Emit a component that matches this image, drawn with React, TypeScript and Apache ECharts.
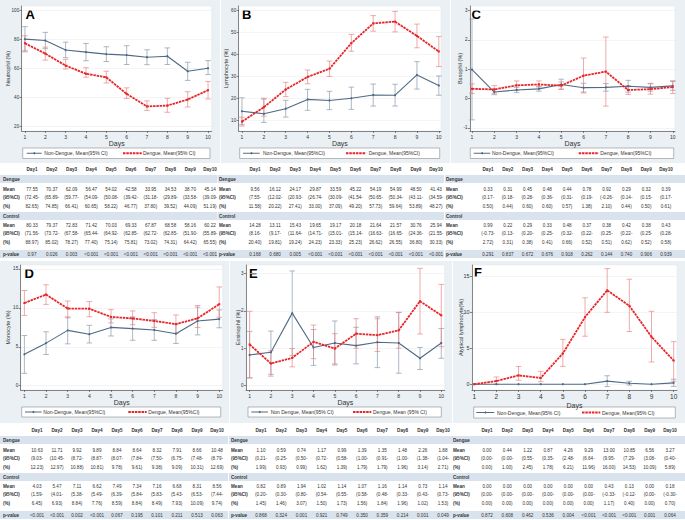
import React, { useEffect, useRef } from "react";
import * as echarts from "echarts";

const FONT = "Liberation Sans, Arial, sans-serif";
const days = [1, 2, 3, 4, 5, 6, 7, 8, 9, 10];
const dayLabels = days.map((d) => `Day${d}`);

// A Neutrophil
const neuDenMean = [77.55, 70.37, 62.09, 56.47, 54.02, 42.58, 33.95, 34.53, 38.7, 45.14];
const neuDenLo = [72.45, 65.89, 59.77, 54.09, 50.08, 39.42, 31.18, 29.89, 33.58, 39.09];
const neuDenHi = [82.65, 74.85, 66.41, 60.65, 58.22, 46.77, 37.8, 39.52, 44.09, 51.19];
const neuConMean = [80.33, 79.37, 72.83, 71.42, 70.03, 69.33, 67.87, 68.58, 58.16, 60.22];
const neuConLo = [71.56, 73.72, 67.58, 65.44, 64.92, 62.85, 62.72, 62.85, 51.9, 55.89];
const neuConHi = [88.97, 85.02, 78.27, 77.4, 75.14, 75.81, 73.02, 74.31, 64.42, 65.55];
const neuP = ["0.97", "0.026", "0.003", "<0.001", "<0.001", "<0.001", "<0.001", "<0.001", "<0.001", "<0.001"];

// B Lymphocyte
const lymDenMean = [9.56, 16.12, 24.17, 29.87, 33.59, 45.22, 54.19, 54.99, 48.5, 41.43];
const lymDenLo = [7.55, 12.02, 20.93, 26.74, 30.09, 41.54, 50.65, 50.34, 43.11, 34.59];
const lymDenHi = [11.58, 20.22, 27.41, 33.0, 37.09, 49.2, 57.73, 59.64, 53.89, 48.27];
const lymConMean = [14.28, 13.11, 15.43, 19.65, 19.17, 20.18, 21.64, 21.57, 30.76, 25.94];
const lymConLo = [8.16, 9.17, 11.64, 14.71, 15.01, 15.14, 16.63, 16.65, 24.36, 21.55];
const lymConHi = [20.4, 19.81, 19.24, 24.23, 23.33, 25.23, 26.62, 26.55, 36.8, 30.33];
const lymP = ["0.168", "0.680", "0.005", "<0.001", "<0.001", "<0.001", "<0.001", "<0.001", "<0.001", "<0.001"];

// C Basophil
const basDenMean = [0.33, 0.31, 0.45, 0.48, 0.44, 0.78, 0.92, 0.29, 0.32, 0.39];
const basDenLo = [0.17, 0.18, 0.28, 0.36, 0.31, 0.19, -0.26, 0.14, 0.15, 0.17];
const basDenHi = [0.5, 0.44, 0.6, 0.6, 0.57, 1.38, 2.1, 0.44, 0.5, 0.61];
const basConMean = [0.99, 0.22, 0.29, 0.33, 0.48, 0.37, 0.38, 0.42, 0.38, 0.43];
const basConLo = [-0.73, 0.13, 0.2, 0.25, 0.32, 0.22, 0.25, 0.22, 0.25, 0.28];
const basConHi = [2.72, 0.31, 0.38, 0.41, 0.66, 0.52, 0.51, 0.62, 0.52, 0.58];
const basP = ["0.291", "0.837", "0.672", "0.676", "0.918", "0.262", "0.144", "0.740", "0.906", "0.939"];

// D Monocyte
const monDenMean = [10.63, 11.71, 9.92, 9.89, 8.84, 8.64, 8.32, 7.91, 8.66, 10.48];
const monDenLo = [9.03, 10.45, 8.72, 8.87, 8.07, 7.84, 7.5, 6.75, 7.48, 8.79];
const monDenHi = [12.23, 12.97, 10.88, 10.81, 9.78, 9.61, 9.38, 9.09, 10.31, 12.69];
const monConMean = [4.03, 5.47, 7.11, 6.62, 7.49, 7.34, 7.16, 6.68, 8.31, 8.56];
const monConLo = [1.59, 4.01, 5.38, 5.49, 6.39, 5.84, 5.83, 5.43, 6.53, 7.44];
const monConHi = [6.45, 6.93, 8.84, 7.76, 8.59, 8.84, 8.49, 7.93, 10.09, 9.74];
const monP = ["<0.001", "<0.001", "0.002", "<0.001", "0.067", "0.195", "0.101", "0.211", "0.513", "0.063"];

// E Eosinophil
const eosDenMean = [1.1, 0.59, 0.74, 1.17, 0.99, 1.39, 1.35, 1.48, 2.26, 1.88];
const eosDenLo = [0.21, 0.25, 0.5, 0.72, 0.58, 1.0, 0.91, 1.0, 1.38, 1.04];
const eosDenHi = [1.99, 0.93, 0.99, 1.62, 1.39, 1.79, 1.79, 1.96, 3.14, 2.71];
const eosConMean = [0.82, 0.89, 1.94, 1.02, 1.14, 1.07, 1.16, 1.14, 0.73, 1.14];
const eosConLo = [0.2, 0.3, 0.8, 0.54, 0.55, 0.58, 0.48, 0.33, 0.43, 0.73];
const eosConHi = [1.45, 1.46, 3.07, 1.5, 1.73, 1.56, 1.84, 1.96, 1.02, 1.53];
const eosP = ["0.868", "0.324", "0.001", "0.921", "0.749", "0.350", "0.359", "0.214", "0.001", "0.049"];

// F Atypical lymphocyte
const atyDenMean = [0.0, 0.44, 1.22, 0.87, 4.26, 9.29, 13.0, 10.85, 6.56, 3.27];
const atyDenLo = [0.0, 0.0, 0.55, 0.35, 2.48, 6.64, 9.95, 7.29, 3.08, 0.4];
const atyDenHi = [0.0, 1.0, 2.45, 1.78, 6.21, 11.96, 16.0, 14.53, 10.09, 5.89];
const atyConMean = [0.0, 0.0, 0.0, 0.0, 0.0, 0.0, 0.43, 0.13, 0.0, 0.18];
const atyConLo = [0.0, 0.0, 0.0, 0.0, 0.0, 0.0, -0.33, -0.12, 0.0, -0.3];
const atyConHi = [0.0, 0.0, 0.0, 0.0, 0.0, 0.0, 1.17, 0.4, 0.0, 0.7];
const atyP = ["0.872", "0.608", "0.462", "0.536", "0.004", "<0.001", "<0.001", "<0.001", "0.001", "0.064"];

const BLUE = "#4f6a86";
const BLUE_ERR = "#8a9aad";
const RED = "#e8262a";
const RED_ERR = "#e98585";
const PANEL_BG = "#eaf0f3";
const BAND = "#d9e3ee";

const panels = [
  {
    letter: "A", yTitle: "Neutrophil (%)", yTicks: [20, 40, 60, 80, 100], yMin: 17, yMax: 103.2,
    xMin: 0.84, xMax: 10.18, grid: [21.7, 6, 190, 125], bg: [0, 0, 220, 163], letterXY: [25.5, 8], yTitleX: 8,
    legend: { box: [22.7, 148, 187.3, 10.5], l1: [26.7, 41.7], t1: 44.3, l2: [123, 141.7], t2: 143,
      n1: "Non-Dengue, Mean(95% CI)", n2: "Dengue, Mean(95% CI)" },
    table: { h: 169, labelX: 3, c0: 32, c9: 210, band: [0, 217] },
    den: [neuDenMean, neuDenLo, neuDenHi], con: [neuConMean, neuConLo, neuConHi], p: neuP, xFont: 5,
  },
  {
    letter: "B", yTitle: "Lymphocyte (%)", yTicks: [10, 20, 30, 40, 50, 60], yMin: 5.3, yMax: 62.1,
    xMin: 0.85, xMax: 10.1, grid: [238.7, 6, 202.3, 125], bg: [221, 0, 229, 163], letterXY: [242, 8], yTitleX: 226,
    legend: { box: [239.7, 148, 200, 10.5], l1: [243, 259.7], t1: 263, l2: [346, 366], t2: 368.7,
      n1: "Non-Dengue, Mean(95%CI)", n2: "Dengue, Mean(95%CI)" },
    table: { h: 169, labelX: 219, c0: 255, c9: 436, band: [217.5, 226.5] },
    den: [lymDenMean, lymDenLo, lymDenHi], con: [lymConMean, lymConLo, lymConHi], p: lymP, xFont: 5,
  },
  {
    letter: "C", yTitle: "Basophil (%)", yTicks: [-1, 0, 1, 2, 3], yMin: -1.11, yMax: 3.16,
    xMin: 0.91, xMax: 10.1, grid: [470, 6, 205, 125], bg: [451, 0, 234, 163], letterXY: [471.5, 8], yTitleX: 460,
    legend: { box: [470.3, 148, 203.4, 10.5], l1: [473.7, 490.3], t1: 492, l2: [578.7, 598.7], t2: 600.3,
      n1: "Non-Dengue, Mean(95%CI)", n2: "Dengue, Mean(95%CI)" },
    table: { h: 169, labelX: 446, c0: 488, c9: 666, band: [445, 240] },
    den: [basDenMean, basDenLo, basDenHi], con: [basConMean, basConLo, basConHi], p: basP, xFont: 5,
  },
  {
    letter: "D", yTitle: "Monocyte (%)", yTicks: [0, 5, 10, 15], yMin: -0.55, yMax: 15.51,
    xMin: 0.83, xMax: 10.16, grid: [20.7, 265, 202, 125], bg: [0, 261, 229, 162], letterXY: [24.5, 267], yTitleX: 8.3,
    legend: { box: [21.7, 407, 199, 10], l1: [25, 41.7], t1: 43.3, l2: [128.3, 146.7], t2: 148.3,
      n1: "Non-Dengue, Mean(95%CI)", n2: "Dengue, Mean(95%CI)" },
    table: { h: 430, labelX: 3, c0: 37, c9: 217, band: [0, 228] },
    den: [monDenMean, monDenLo, monDenHi], con: [monConMean, monConLo, monConHi], p: monP, xFont: 5,
  },
  {
    letter: "E", yTitle: "Eosinophil (%)", yTicks: [0, 1, 2, 3], yMin: -0.12, yMax: 3.23,
    xMin: 0.83, xMax: 10.16, grid: [246, 265, 198.7, 125], bg: [230, 261, 222, 162], letterXY: [249, 267], yTitleX: 238,
    legend: { box: [248, 407, 193.3, 10], l1: [251.3, 268], t1: 270.7, l2: [353, 371.3], t2: 373,
      n1: "Non Dengue, Mean(95% CI)", n2: "Dengue, Mean (95% CI)" },
    table: { h: 430, labelX: 231, c0: 261, c9: 443, band: [229, 223] },
    den: [eosDenMean, eosDenLo, eosDenHi], con: [eosConMean, eosConLo, eosConHi], p: eosP, xFont: 5,
  },
  {
    letter: "F", yTitle: "Atypical lymphocyte(%)", yTicks: [0, 5, 10, 15], yMin: -0.8, yMax: 16.5,
    xMin: 0.9, xMax: 10.15, grid: [472, 265, 205, 125], bg: [453, 261, 232, 162], letterXY: [474, 266], yTitleX: 461,
    legend: { box: [473.7, 407, 201.6, 11], l1: [476.3, 494.3], t1: 497, l2: [582, 600.3], t2: 602,
      n1: "Non-Dengue, Mean(95% CI)", n2: "Dengue, Mean(95% CI)" },
    table: { h: 430, labelX: 453, c0: 487, c9: 670, band: [452, 233] },
    den: [atyDenMean, atyDenLo, atyDenHi], con: [atyConMean, atyConLo, atyConHi], p: atyP, xFont: 6.5,
  },
];

const errorRender = (color: string) => (params: any, api: any) => {
  const x = api.value(0);
  const lo = api.value(1);
  const hi = api.value(2);
  if (lo === hi) return null;
  const top = api.coord([x, hi]);
  const bot = api.coord([x, lo]);
  const cap = 2.8;
  const style = { stroke: color, lineWidth: 0.7 };
  return {
    type: "group",
    children: [
      { type: "line", shape: { x1: top[0], y1: top[1], x2: bot[0], y2: bot[1] }, style },
      { type: "line", shape: { x1: top[0] - cap, y1: top[1], x2: top[0] + cap, y2: top[1] }, style },
      { type: "line", shape: { x1: bot[0] - cap, y1: bot[1], x2: bot[0] + cap, y2: bot[1] }, style },
    ],
  };
};

const fmt = (v: number) => v.toFixed(2);

function tableElements(p: any) {
  const els: any[] = [];
  const t = p.table;
  const h = t.h;
  const colX = (i: number) => t.c0 + ((t.c9 - t.c0) * i) / 9;
  [[h + 6, h + 14], [h + 43, h + 51], [h + 81, h + 89]].forEach(([y0, y1]) =>
    els.push({ type: "rect", z: -1, shape: { x: t.band[0], y: y0, width: t.band[1], height: y1 - y0 }, style: { fill: BAND } })
  );
  const txt = (x: number, y: number, text: string, bold: boolean, align = "center") => ({
    type: "text", x, y,
    style: { text, fontSize: 4.6, fontWeight: bold ? "bold" : "normal", fill: "#333", align, verticalAlign: "middle", fontFamily: FONT },
  });
  dayLabels.forEach((d, i) => els.push(txt(colX(i), h, d, true)));
  els.push(txt(t.labelX, h + 10, "Dengue", true, "left"));
  els.push(txt(t.labelX, h + 47, "Control", true, "left"));
  els.push(txt(t.labelX, h + 85, "p-value", true, "left"));
  const groups = [[p.den, 20], [p.con, 56]];
  groups.forEach(([arr, off]: any) => {
    els.push(txt(t.labelX, h + off, "Mean", true, "left"));
    els.push(txt(t.labelX, h + off + 8, "(95%CI)", true, "left"));
    els.push(txt(t.labelX, h + off + 17, "(%)", true, "left"));
    days.forEach((_, i) => {
      els.push(txt(colX(i), h + off, fmt(arr[0][i]), false));
      els.push(txt(colX(i), h + off + 8, `(${fmt(arr[1][i])}-`, false));
      els.push(txt(colX(i), h + off + 17, `${fmt(arr[2][i])})`, false));
    });
  });
  p.p.forEach((v: string, i: number) => els.push(txt(colX(i), h + 85, v, false)));
  return els;
}

function legendElements(p: any) {
  const L = p.legend;
  const [bx, by, bw, bh] = L.box;
  const cy = by + bh / 2;
  return [
    { type: "rect", shape: { x: bx, y: by, width: bw, height: bh }, style: { fill: "#fff", stroke: "#8a8a8a", lineWidth: 0.6 } },
    { type: "line", shape: { x1: L.l1[0], y1: cy, x2: L.l1[1], y2: cy }, style: { stroke: BLUE, lineWidth: 1 } },
    { type: "circle", shape: { cx: (L.l1[0] + L.l1[1]) / 2, cy, r: 1 }, style: { fill: BLUE } },
    { type: "text", x: L.t1, y: cy, style: { text: L.n1, fontSize: 5, fill: "#333", verticalAlign: "middle", fontFamily: FONT } },
    { type: "line", shape: { x1: L.l2[0], y1: cy, x2: L.l2[1], y2: cy }, style: { stroke: RED, lineWidth: 1.8, lineDash: [2.5, 0.8] } },
    { type: "text", x: L.t2, y: cy, style: { text: L.n2, fontSize: 5, fill: "#333", verticalAlign: "middle", fontFamily: FONT } },
  ];
}

function buildOption() {
  const grid: any[] = [];
  const xAxis: any[] = [];
  const yAxis: any[] = [];
  const series: any[] = [];
  const graphic: any[] = [];
  const axisLineStyle = { color: "#555", width: 0.7 };

  panels.forEach((p, i) => {
    const [gl, gt, gw, gh] = p.grid;
    grid.push({ left: gl, top: gt, width: gw, height: gh, containLabel: false });
    xAxis.push({
      type: "value", gridIndex: i, min: p.xMin, max: p.xMax,
      axisLine: { show: true, onZero: false, lineStyle: axisLineStyle },
      axisTick: { show: true, length: 2, customValues: days, lineStyle: axisLineStyle },
      axisLabel: { customValues: days, fontSize: p.xFont, color: "#333", margin: 3, fontFamily: FONT },
      splitLine: { show: false },
      name: "Days", nameLocation: "middle", nameGap: p.xFont > 6 ? 12 : 9,
      nameTextStyle: { fontSize: 7, color: "#333", fontFamily: FONT },
    });
    yAxis.push({
      type: "value", gridIndex: i, min: p.yMin, max: p.yMax,
      axisLine: { show: true, onZero: false, lineStyle: axisLineStyle },
      axisTick: { show: true, length: 2, customValues: p.yTicks, lineStyle: axisLineStyle },
      axisLabel: { customValues: p.yTicks, fontSize: p.xFont > 6 ? 5.5 : 4.6, color: "#333", margin: 2.5, fontFamily: FONT },
      splitLine: { show: true, lineStyle: { color: "#ececec", width: 0.6 } },
    });
    const den = p.den, con = p.con;
    series.push({
      type: "custom", xAxisIndex: i, yAxisIndex: i, renderItem: errorRender(BLUE_ERR),
      data: days.map((d, k) => [d, con[1][k], con[2][k]]), encode: { x: 0, y: [1, 2] }, z: 2,
    });
    series.push({
      type: "custom", xAxisIndex: i, yAxisIndex: i, renderItem: errorRender(RED_ERR),
      data: days.map((d, k) => [d, den[1][k], den[2][k]]), encode: { x: 0, y: [1, 2] }, z: 2,
    });
    series.push({
      type: "line", xAxisIndex: i, yAxisIndex: i, name: p.legend.n1, z: 3,
      data: days.map((d, k) => [d, con[0][k]]),
      symbol: "circle", symbolSize: 2.2, itemStyle: { color: BLUE },
      lineStyle: { color: BLUE, width: 1.1 },
    });
    series.push({
      type: "line", xAxisIndex: i, yAxisIndex: i, name: p.legend.n2, z: 4,
      data: days.map((d, k) => [d, den[0][k]]),
      symbol: "rect", symbolSize: 2, itemStyle: { color: RED },
      lineStyle: { color: RED, width: 1.8, type: [2.5, 0.8] },
    });

    const [bx, by, bw, bh] = p.bg;
    graphic.push({ type: "rect", z: -2, shape: { x: bx, y: by, width: bw, height: bh }, style: { fill: PANEL_BG } });
    graphic.push({ type: "rect", z: -1, shape: { x: gl, y: gt, width: gw, height: gh }, style: { fill: "#fff", stroke: "#dfe4e8", lineWidth: 0.5 } });
    graphic.push({
      type: "text", x: p.letterXY[0], y: p.letterXY[1],
      style: { text: p.letter, fontSize: 13, fontWeight: "bold", fill: "#000", verticalAlign: "top", fontFamily: FONT },
    });
    graphic.push({
      type: "text", x: p.yTitleX, y: gt + gh / 2, rotation: Math.PI / 2,
      style: { text: p.yTitle, fontSize: 5.5, fill: "#333", align: "center", verticalAlign: "middle", fontFamily: FONT },
    });
    legendElements(p).forEach((e) => graphic.push(e));
    tableElements(p).forEach((e) => graphic.push(e));
  });

  return {
    animation: false,
    backgroundColor: "#fff",
    textStyle: { fontFamily: FONT },
    grid, xAxis, yAxis, series,
    graphic: { elements: graphic },
  };
}

export default function App() {
  const ref = useRef<HTMLDivElement>(null);
  useEffect(() => {
    const chart = echarts.init(ref.current!, null, { renderer: "svg" });
    chart.setOption(buildOption() as any);
    return () => chart.dispose();
  }, []);
  return (
    <div
      ref={ref}
      style={{ position: "fixed", left: 0, top: 0, width: 685, height: 520, background: "#fff" }}
    />
  );
}
